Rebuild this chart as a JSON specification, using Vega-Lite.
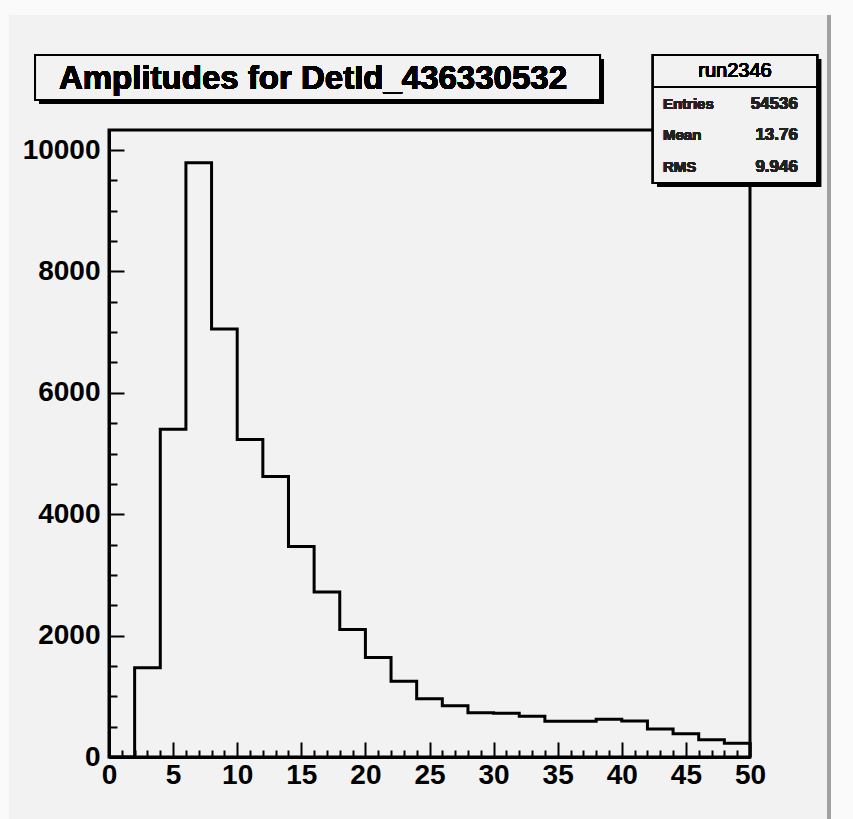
{
  "$schema": "https://vega.github.io/schema/vega-lite/v6.json",
  "autosize": "none",
  "width": 641,
  "height": 627,
  "padding": {"left": 109, "top": 130, "right": 103, "bottom": 62},
  "background": "#f2f2f2",
  "config": {
    "view": {"stroke": "black", "strokeWidth": 3, "fill": null},
    "font": "Liberation Sans"
  },
  "resolve": {"axis": {"x": "independent", "y": "independent"}},
  "data": {
    "values": [
      {"amp": 0, "count": 0},
      {"amp": 2, "count": 1470},
      {"amp": 4, "count": 5400},
      {"amp": 6, "count": 9790},
      {"amp": 8, "count": 7050},
      {"amp": 10, "count": 5230},
      {"amp": 12, "count": 4620},
      {"amp": 14, "count": 3470},
      {"amp": 16, "count": 2720},
      {"amp": 18, "count": 2100},
      {"amp": 20, "count": 1640},
      {"amp": 22, "count": 1250},
      {"amp": 24, "count": 960},
      {"amp": 26, "count": 845},
      {"amp": 28, "count": 730},
      {"amp": 30, "count": 720},
      {"amp": 32, "count": 670},
      {"amp": 34, "count": 590},
      {"amp": 36, "count": 590},
      {"amp": 38, "count": 620},
      {"amp": 40, "count": 593},
      {"amp": 42, "count": 461},
      {"amp": 44, "count": 384},
      {"amp": 46, "count": 285},
      {"amp": 48, "count": 225},
      {"amp": 50, "count": 0}
    ]
  },
  "layer": [
    {
      "mark": {"type": "line", "interpolate": "step-after", "color": "black", "strokeWidth": 3},
      "encoding": {
        "x": {
          "field": "amp", "type": "quantitative",
          "scale": {"domain": [0, 50], "nice": false, "zero": false},
          "axis": {
            "title": null, "grid": false, "zindex": 1,
            "values": [0,1,2,3,4,5,6,7,8,9,10,11,12,13,14,15,16,17,18,19,20,21,22,23,24,25,26,27,28,29,30,31,32,33,34,35,36,37,38,39,40,41,42,43,44,45,46,47,48,49,50],
            "tickSize": {"condition": {"test": "datum.value % 5 === 0", "value": -15}, "value": -7},
            "tickWidth": 2, "tickColor": "black",
            "domainColor": "black", "domainWidth": 3,
            "labelExpr": "datum.value % 5 === 0 ? datum.label : ''",
            "labelFont": "Liberation Sans", "labelFontWeight": "bold", "labelFontSize": 28,
            "labelColor": "black", "labelPadding": 19, "labelFlush": false, "labelOverlap": false
          }
        },
        "y": {
          "field": "count", "type": "quantitative",
          "scale": {"domain": [0, 10330], "nice": false},
          "axis": {
            "title": null, "grid": false, "format": "d", "zindex": 1,
            "values": [0,500,1000,1500,2000,2500,3000,3500,4000,4500,5000,5500,6000,6500,7000,7500,8000,8500,9000,9500,10000],
            "tickSize": {"condition": {"test": "datum.value % 2000 === 0", "value": -15}, "value": -8},
            "tickWidth": 2, "tickColor": "black",
            "domainColor": "black", "domainWidth": 3,
            "labelExpr": "datum.value % 2000 === 0 ? datum.label : ''",
            "labelFont": "Liberation Sans", "labelFontWeight": "bold", "labelFontSize": 28,
            "labelColor": "black", "labelPadding": 24, "labelFlush": false, "labelOverlap": false
          }
        }
      }
    },
    {
      "mark": {"type": "rect", "color": "#fafafa"},
      "encoding": {
        "x": {"datum": 56.3, "type": "quantitative", "axis": null}, "x2": {"datum": 58.1},
        "y": {"datum": 12480, "type": "quantitative", "axis": null}, "y2": {"datum": -1021}
      }
    },
    {
      "mark": {"type": "rect", "color": "#fafafa"},
      "encoding": {
        "x": {"datum": -8.6, "type": "quantitative", "axis": null}, "x2": {"datum": 58.1},
        "y": {"datum": 12480, "type": "quantitative", "axis": null}, "y2": {"datum": 12224}
      }
    },
    {
      "mark": {"type": "rect", "color": "#fafafa"},
      "encoding": {
        "x": {"datum": -8.6, "type": "quantitative", "axis": null}, "x2": {"datum": -7.8},
        "y": {"datum": 12480, "type": "quantitative", "axis": null}, "y2": {"datum": -1021}
      }
    },
    {
      "mark": {"type": "rule", "color": "#a0a0a0", "strokeWidth": 3},
      "encoding": {
        "x": {"datum": 56.16, "type": "quantitative", "axis": null},
        "y": {"datum": 12224, "type": "quantitative", "axis": null},
        "y2": {"datum": -1021}
      }
    },
    {
      "mark": {"type": "rect", "color": "black"},
      "encoding": {
        "x": {"datum": -5.46, "type": "quantitative", "axis": null}, "x2": {"datum": 38.61},
        "y": {"datum": 11500, "type": "quantitative", "axis": null}, "y2": {"datum": 10758}
      }
    },
    {
      "mark": {"type": "rect", "fill": "#f2f2f2", "stroke": "black", "strokeWidth": 2},
      "encoding": {
        "x": {"datum": -5.77, "type": "quantitative", "axis": null}, "x2": {"datum": 38.3},
        "y": {"datum": 11566, "type": "quantitative", "axis": null}, "y2": {"datum": 10824}
      }
    },
    {
      "mark": {"type": "text", "text": "Amplitudes for DetId_436330532", "font": "Liberation Sans", "fontWeight": "bold", "fontSize": 33, "align": "center", "baseline": "middle", "color": "black"},
      "encoding": {
        "x": {"datum": 15.91, "type": "quantitative", "axis": null},
        "y": {"datum": 11170, "type": "quantitative", "axis": null}
      }
    },
    {
      "mark": {"type": "rect", "color": "black"},
      "encoding": {
        "x": {"datum": 42.75, "type": "quantitative", "axis": null}, "x2": {"datum": 55.54},
        "y": {"datum": 11500, "type": "quantitative", "axis": null}, "y2": {"datum": 9391}
      }
    },
    {
      "mark": {"type": "rect", "fill": "#f2f2f2", "stroke": "black", "strokeWidth": 2},
      "encoding": {
        "x": {"datum": 42.43, "type": "quantitative", "axis": null}, "x2": {"datum": 55.23},
        "y": {"datum": 11566, "type": "quantitative", "axis": null}, "y2": {"datum": 9457}
      }
    },
    {
      "mark": {"type": "rule", "color": "black", "strokeWidth": 2},
      "encoding": {
        "x": {"datum": 42.43, "type": "quantitative", "axis": null}, "x2": {"datum": 55.23},
        "y": {"datum": 11038, "type": "quantitative", "axis": null}
      }
    },
    {
      "mark": {"type": "text", "text": "run2346", "font": "Liberation Sans", "fontSize": 20, "align": "center", "baseline": "middle", "color": "black"},
      "encoding": {
        "x": {"datum": 48.83, "type": "quantitative", "axis": null},
        "y": {"datum": 11302, "type": "quantitative", "axis": null}
      }
    },
    {
      "mark": {"type": "text", "text": "Entries", "font": "Liberation Sans", "fontWeight": "bold", "fontSize": 15, "align": "left", "baseline": "middle", "color": "#222222"},
      "encoding": {"x": {"datum": 43.21, "type": "quantitative", "axis": null}, "y": {"datum": 10758, "type": "quantitative", "axis": null}}
    },
    {
      "mark": {"type": "text", "text": "Mean", "font": "Liberation Sans", "fontWeight": "bold", "fontSize": 15, "align": "left", "baseline": "middle", "color": "#222222"},
      "encoding": {"x": {"datum": 43.21, "type": "quantitative", "axis": null}, "y": {"datum": 10248, "type": "quantitative", "axis": null}}
    },
    {
      "mark": {"type": "text", "text": "RMS", "font": "Liberation Sans", "fontWeight": "bold", "fontSize": 15, "align": "left", "baseline": "middle", "color": "#222222"},
      "encoding": {"x": {"datum": 43.21, "type": "quantitative", "axis": null}, "y": {"datum": 9720, "type": "quantitative", "axis": null}}
    },
    {
      "mark": {"type": "text", "text": "54536", "font": "Liberation Sans", "fontWeight": "bold", "fontSize": 17, "align": "right", "baseline": "middle", "color": "#222222"},
      "encoding": {"x": {"datum": 53.74, "type": "quantitative", "axis": null}, "y": {"datum": 10758, "type": "quantitative", "axis": null}}
    },
    {
      "mark": {"type": "text", "text": "13.76", "font": "Liberation Sans", "fontWeight": "bold", "fontSize": 17, "align": "right", "baseline": "middle", "color": "#222222"},
      "encoding": {"x": {"datum": 53.74, "type": "quantitative", "axis": null}, "y": {"datum": 10248, "type": "quantitative", "axis": null}}
    },
    {
      "mark": {"type": "text", "text": "9.946", "font": "Liberation Sans", "fontWeight": "bold", "fontSize": 17, "align": "right", "baseline": "middle", "color": "#222222"},
      "encoding": {"x": {"datum": 53.74, "type": "quantitative", "axis": null}, "y": {"datum": 9720, "type": "quantitative", "axis": null}}
    }
  ]
}
